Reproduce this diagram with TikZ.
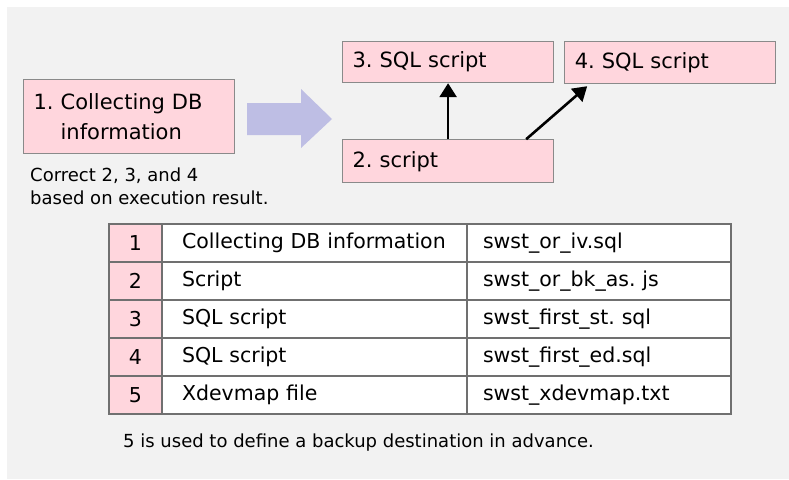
\documentclass[tikz,border=0pt]{standalone}
\usepackage{fontspec}
\setmainfont{DejaVu Sans}
\frenchspacing
\usetikzlibrary{arrows.meta,positioning,calc}
\definecolor{panelGrey}{HTML}{F2F2F2}
\definecolor{stepPink}{HTML}{FFD6DD}
\definecolor{stepEdge}{HTML}{8A8A8A}
\definecolor{flowBlue}{HTML}{BEBEE4}
\definecolor{gridEdge}{HTML}{707070}
\tikzset{
    stepbox/.style={
        rectangle,
        draw=stepEdge,
        line width=1.2pt,
        fill=stepPink,
        anchor=north west,
        minimum width=211pt,
        inner xsep=10pt,
        text width=191pt,
        align=left,
        font=\fontsize{21}{30}\selectfont
    },
    cell/.style={
        rectangle,
        draw=gridEdge,
        line width=1.2pt,
        outer sep=0pt,
        anchor=north west,
        minimum height=38pt,
        inner ysep=0pt,
        font=\fontsize{20.5}{24}\selectfont
    },
    note/.style={anchor=west, align=left, inner sep=0pt, font=\fontsize{18}{23}\selectfont},
    % Arrows
    flowArrow/.style={-{Triangle[length=14pt,width=17pt]}, line width=2.6pt, draw=black}
}
\begin{document}
\begin{tikzpicture}[x=1pt, y=-1pt]
\useasboundingbox (0,0) rectangle (789,479);
\fill[panelGrey] (7,7) rectangle (789,479);

% steps
\node[stepbox, minimum height=74pt] (info) at (23,79) {1. Collecting DB\\\phantom{1. }information};
\node[stepbox, minimum height=41pt] (sql3) at (342,41) {3. SQL script};
\node[stepbox, minimum height=42pt, right=10pt of sql3.north east, anchor=north west] (sql4) {4. SQL script};
\node[stepbox, minimum height=43pt, below=56pt of sql3.south west, anchor=north west] (script) {2. script};

\fill[flowBlue] (247,103) -- (301,103) -- (301,89) -- (332,119) -- (301,148) -- (301,135) -- (247,135) -- cycle;

\draw[flowArrow] (script.north) -- (sql3.south);
\draw[flowArrow] ($(script.north east)+(-28,0)$) -- ($(sql4.south west)+(23,2)$);

\node[note] (remark) at (30,186.5) {Correct 2, 3, and 4\\based on execution result.};

% file table
\foreach \what/\file [count=\r] in {Collecting DB information/swst\_or\_iv.sql,
    Script/swst\_or\_bk\_as. js, SQL script/swst\_first\_st. sql,
    SQL script/swst\_first\_ed.sql, Xdevmap file/swst\_xdevmap.txt}{
  \node[cell, fill=stepPink, minimum width=53pt] (num\r) at (109,{224+38*(\r-1)}) {\r};
  \node[cell, fill=white, minimum width=305pt, inner xsep=20pt, text width=265pt, align=left] (what\r) at (num\r.north east) {\what};
  \node[cell, fill=white, minimum width=264pt, inner xsep=16pt, text width=232pt, align=left] (file\r) at (what\r.north east) {\file};
}

\node[note] (footer) at (123,443) {5 is used to define a backup destination in advance.};
\end{tikzpicture}
\end{document}
